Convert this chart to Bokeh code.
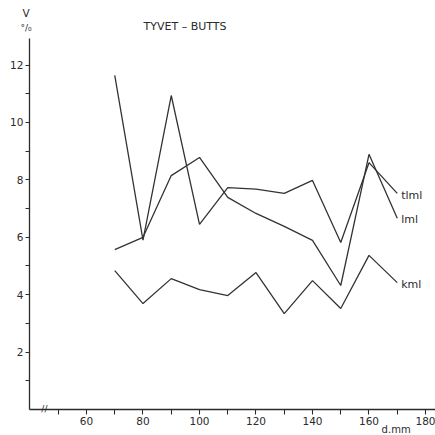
from bokeh.plotting import figure
from bokeh.models import FixedTicker, Label, ColumnDataSource
from bokeh.core.properties import value
from bokeh.embed import file_html
from bokeh.resources import INLINE

# Diameter classes (mm) and coefficient of variation V (%)
diameters = [70, 80, 90, 100, 110, 120, 130, 140, 150, 160, 170]
tlml = [11.64, 5.9, 10.94, 6.45, 7.73, 7.68, 7.53, 7.98, 5.82, 8.6, 7.53]
lml = [5.57, 6.0, 8.15, 8.78, 7.39, 6.83, 6.38, 5.89, 4.32, 8.89, 6.66]
kml = [4.84, 3.69, 4.56, 4.18, 3.97, 4.77, 3.34, 4.49, 3.52, 5.37, 4.42]
series_names = ["tlml", "lml", "kml"]

x_major = [60, 80, 100, 120, 140, 160, 180]
x_minor = [50, 70, 90, 110, 130, 150, 170]
y_major = [2, 4, 6, 8, 10, 12]
y_minor = [1, 3, 5, 7, 9, 11]

# where the axes sit and how far they run
X_AXIS_START, X_AXIS_END = 39.8, 183.6
Y_AXIS_END = 12.92

FONT = "DejaVu Sans"
INK = "#2b2b2b"

# the frame fills the whole canvas; the axes are pinned inside it
p = figure(width=435, height=435, output_backend="svg", toolbar_location=None,
           x_range=(29.56, 183.54), y_range=(-0.906, 14.25),
           min_border=0)
p.outline_line_color = None
p.grid.visible = False
p.background_fill_color = "white"
p.border_fill_color = "white"

for ax in (p.xaxis[0], p.yaxis[0]):
    ax.axis_line_color = INK
    ax.axis_line_width = 1.3
    ax.major_tick_line_color = INK
    ax.minor_tick_line_color = INK
    ax.major_tick_line_width = 1.1
    ax.minor_tick_line_width = 1.1
    ax.major_tick_in = 0
    ax.minor_tick_in = 0
    ax.major_tick_out = 5
    ax.minor_tick_out = 5
    ax.major_label_text_font = FONT
    ax.major_label_text_font_size = "10.5px"
    ax.major_label_text_color = INK

xa, ya = p.xaxis[0], p.yaxis[0]
xa.ticker = FixedTicker(ticks=x_major, minor_ticks=x_minor)
ya.ticker = FixedTicker(ticks=y_major, minor_ticks=y_minor)
xa.fixed_location = 0
xa.bounds = (X_AXIS_START, X_AXIS_END)
ya.fixed_location = X_AXIS_START
ya.bounds = (0, Y_AXIS_END)
xa.major_label_standoff = 3
ya.major_label_standoff = 2
ya.major_tick_out = 4
ya.minor_tick_out = 4

src = ColumnDataSource(dict(d=diameters, tlml=tlml, lml=lml, kml=kml))
for name in series_names:
    p.line("d", name, source=src, line_color="#333333", line_width=1.3)

# series names at the end of each curve
end_src = ColumnDataSource(dict(
    x=[diameters[-1]] * 3,
    y=[tlml[-1], lml[-1], kml[-1]],
    t=series_names,
    dy=[2, 1, 2],
))
p.text("x", "y", text="t", source=end_src, x_offset=4, y_offset="dy",
       text_font=value(FONT), text_font_size="11px", text_color=INK,
       text_align="left", text_baseline="middle")

def note(x, y, text, size="10.5px", align="center"):
    p.add_layout(Label(x=x, y=y, text=text, text_font=FONT,
                       text_font_size=size, text_color=INK,
                       text_align=align, text_baseline="middle"))

note(45.1, 0.03, "//", size="9px")
note(38.6, 13.80, "V")
note(38.6, 13.30, "°/₀", size="9px")
note(80.2, 13.34, "TYVET – BUTTS", size="11px", align="left")
note(169.6, -0.70, "d.mm", size="10px")

open("out.html", "w").write(file_html(p, INLINE))
